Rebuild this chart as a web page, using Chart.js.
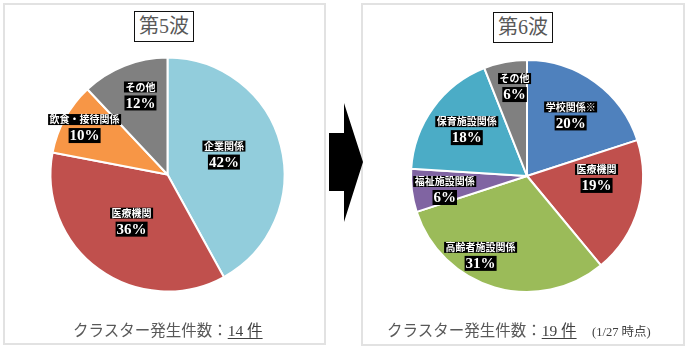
<!DOCTYPE html>
<html><head><meta charset="utf-8">
<script src="https://cdn.jsdelivr.net/npm/chart.js@4/dist/chart.umd.min.js"></script>
<style>
html,body{margin:0;padding:0;background:#fff;}
#root{position:relative;width:690px;height:351px;overflow:hidden;font-family:"Liberation Serif","Noto Sans CJK JP",serif;}
.panel{position:absolute;border:2px solid #e2e2e2;box-sizing:border-box;background:#fff;}
canvas{position:absolute;top:0;}
.title{position:absolute;border:1.5px solid #111;background:#fff;color:#595959;font-size:20px;line-height:28px;text-align:center;box-sizing:border-box;font-family:"Liberation Serif","Noto Sans CJK JP",serif;}
.foot{position:absolute;color:#595959;font-size:15.5px;white-space:nowrap;font-family:"Liberation Serif","Noto Sans CJK JP",serif;}
.foot u{color:#404040;text-underline-offset:2px;}
.small{position:absolute;font-size:12.5px;color:#404040;white-space:nowrap;font-family:"Liberation Serif","Noto Sans CJK JP",serif;}
svg{position:absolute;left:0;top:0;}
</style></head>
<body><div id="root">
<div class="panel" style="left:3px;top:3px;width:323px;height:342px;"></div>
<div class="panel" style="left:361px;top:3px;width:324px;height:343px;"></div>
<svg width="690" height="351"><polygon points="329,133 344,133 344,103 363,162 344,222 344,191 329,191" fill="#000"/></svg>
<canvas id="c1" width="345" height="351" style="left:0px;"></canvas>
<canvas id="c2" width="345" height="351" style="left:345px;"></canvas>
<div class="title" style="left:134px;top:11px;width:60px;height:31px;">第5波</div>
<div class="title" style="left:493px;top:12px;width:60px;height:31px;">第6波</div>
<div class="foot" style="left:73px;top:318px;">クラスター発生件数：<u>14 件</u></div>
<div class="foot" style="left:387px;top:318px;">クラスター発生件数：<u>19 件</u></div>
<div class="small" style="left:592px;top:321px;">(1/27 時点)</div>
</div>
<script>
// ---- data ----
const wave5Labels = ['企業関係','医療機関','飲食・接待関係','その他'];
const wave5Values = [42, 36, 10, 12];
const wave6Labels = ['学校関係※','医療機関','高齢者施設関係','福祉施設関係','保育施設関係','その他'];
const wave6Values = [20, 19, 31, 6, 18, 6];

// ---- styles ----
const wave5Colors = ['#92CDDC','#C0504D','#F79646','#808080'];
const wave6Colors = ['#4F81BD','#C0504D','#9BBB59','#8064A2','#4BACC6','#808080'];
// label placement: [angle from top (deg, clockwise), radius fraction]
const wave5LabelPos = [[71,0.51],[217,0.51],[299,0.81],[341,0.71]];
const wave6LabelPos = [[36,0.64],[92,0.6],[210,0.8],[260,0.72],[307,0.65],[352,0.77]];

const labelPlugin = {
  id: 'sliceLabels',
  afterDatasetsDraw(chart, args, opts) {
    const ctx = chart.ctx;
    const meta = chart.getDatasetMeta(0);
    const labels = chart.data.labels;
    const vals = chart.data.datasets[0].data;
    meta.data.forEach((arc, i) => {
      const p = opts.pos[i];
      const a = p[0] * Math.PI / 180;
      const cx = arc.x + p[1] * arc.outerRadius * Math.sin(a);
      const cy = arc.y - p[1] * arc.outerRadius * Math.cos(a);
      ctx.save();
      ctx.textAlign = 'center';
      ctx.textBaseline = 'middle';
      ctx.font = 'bold 10px "Noto Sans CJK JP", sans-serif';
      let w = ctx.measureText(labels[i]).width;
      ctx.fillStyle = '#000';
      ctx.fillRect(cx - w/2 - 1.5, cy - 9 - 5.5, w + 3, 11);
      ctx.fillStyle = '#fff';
      ctx.fillText(labels[i], cx, cy - 9);
      const t = vals[i] + '%';
      ctx.font = 'bold 15px "Liberation Serif", "DejaVu Serif", serif';
      w = ctx.measureText(t).width;
      ctx.fillStyle = '#000';
      ctx.fillRect(cx - w/2 - 1, cy + 7 - 7.5, w + 2, 15);
      ctx.fillStyle = '#fff';
      ctx.fillText(t, cx, cy + 8);
      ctx.restore();
    });
  }
};

function makePie(id, labels, values, colors, pos, padding) {
  new Chart(document.getElementById(id), {
    type: 'pie',
    data: { labels: labels, datasets: [{ data: values, backgroundColor: colors, borderColor: '#fff', borderWidth: 2 }] },
    options: {
      responsive: false, animation: false,
      layout: { padding: padding },
      plugins: { legend: { display: false }, tooltip: { enabled: false }, sliceLabels: { pos: pos } }
    },
    plugins: [labelPlugin]
  });
}
makePie('c1', wave5Labels, wave5Values, wave5Colors, wave5LabelPos, {left: 49.5, right: 59.5, top: 56.5, bottom: 58.5});
makePie('c2', wave6Labels, wave6Values, wave6Colors, wave6LabelPos, {left: 65, right: 46, top: 59, bottom: 58});
</script>
</body></html>
